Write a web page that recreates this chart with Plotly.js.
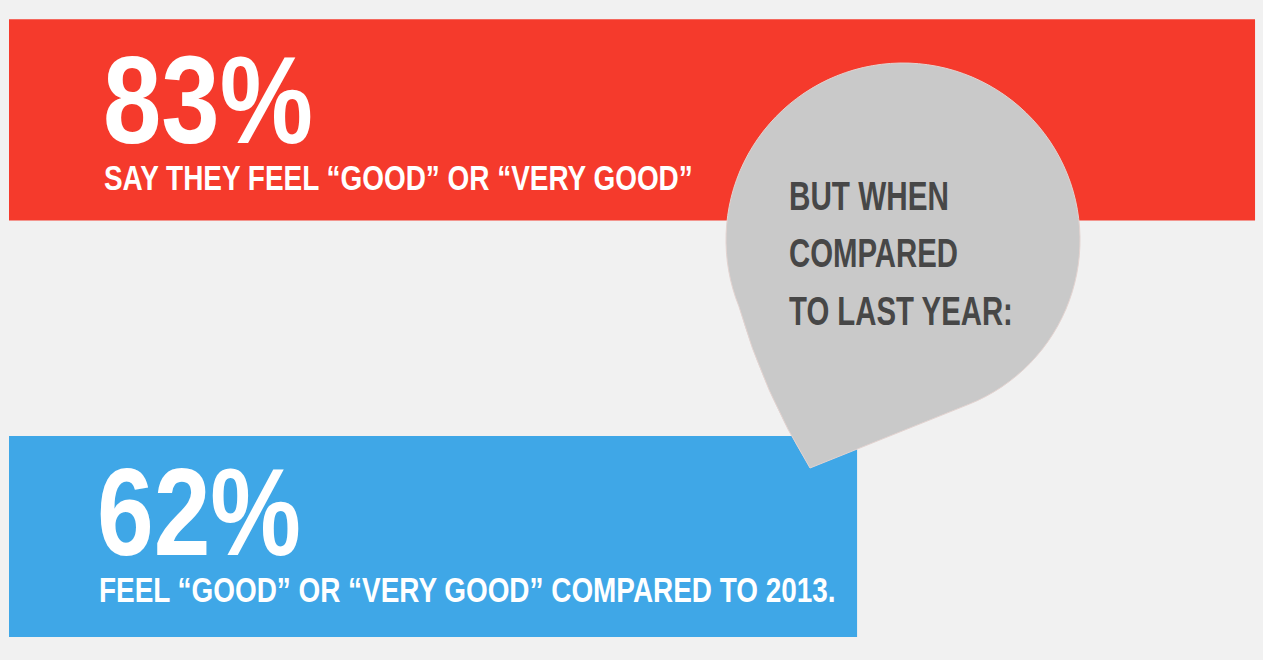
<!DOCTYPE html>
<html><head><meta charset="utf-8">
<script src="https://cdn.plot.ly/plotly-3.0.1.min.js"></script>
<style>html,body{margin:0;padding:0;background:#f1f1f1;overflow:hidden}#chart{width:1263px;height:660px}</style>
</head><body><div id="chart"></div>
<script>
// ---- data ----
const categories = ['Compared to 2013', 'Feel good or very good'];
const values = [62, 83];
const subLabels = ['FEEL “GOOD” OR “VERY GOOD” COMPARED TO 2013.', 'SAY THEY FEEL “GOOD” OR “VERY GOOD”'];
const calloutLines = ['BUT WHEN', 'COMPARED', 'TO LAST YEAR:'];

// ---- styling / layout helpers ----
const barColors = ['#3fa7e7', '#f53a2c'];
const W = 1263, H = 660, ML = 9;
const px = x => (x - ML) / (W - ML);
const py = y => 1 - y / H;
const FONT = '"Liberation Sans", Arial, sans-serif';

// callout bubble: round head + pointed tail (pixel geometry)
const head = {cx: 903, cy: 240, r: 177};
const tip = [810, 468];
function bubblePath(){
  const pts = [];
  for (let a = 68; a >= -204; a -= 3){
    const t = a * Math.PI / 180;
    pts.push([head.cx + head.r * Math.cos(t), head.cy + head.r * Math.sin(t)]);
  }
  let d = 'M' + px(tip[0]) + ',' + py(tip[1]);
  pts.forEach(p => { d += ' L' + px(p[0]) + ',' + py(p[1]); });
  const last = pts[pts.length - 1];
  const ctrl = [(last[0] + tip[0]) / 2 - 11, (last[1] + tip[1]) / 2 + 5];
  d += ' Q' + px(ctrl[0]) + ',' + py(ctrl[1]) + ' ' + px(tip[0]) + ',' + py(tip[1]) + ' Z';
  return d;
}

const trace = {
  type: 'bar', orientation: 'h',
  y: categories, x: values,
  marker: {color: barColors, line: {width: 0}},
  hoverinfo: 'skip'
};

// text placement (pixel) and condensed widths
const bigPos = [{x: 95, y: 512, w: 204}, {x: 101, y: 100, w: 210}];
const subPos = [{x: 97, y: 589, w: 737}, {x: 102, y: 177, w: 589}];
const calloutPos = {x: 787, y0: 196, dy: 57.5, w: [160, 169, 224]};

const annotations = [];
const widths = [];
values.forEach((v, i) => {
  annotations.push({xref:'paper', yref:'paper', x: px(bigPos[i].x), y: py(bigPos[i].y), xanchor:'left', yanchor:'middle', align:'left',
    text: v + '%', showarrow:false, font:{family: FONT, size: 124, color:'#ffffff', weight: 'bold'}});
  widths.push(bigPos[i].w);
  annotations.push({xref:'paper', yref:'paper', x: px(subPos[i].x), y: py(subPos[i].y), xanchor:'left', yanchor:'middle', align:'left',
    text: subLabels[i], showarrow:false, font:{family: FONT, size: 35, color:'#ffffff', weight: 'bold'}});
  widths.push(subPos[i].w);
});
calloutLines.forEach((t, i) => {
  annotations.push({xref:'paper', yref:'paper', x: px(calloutPos.x), y: py(calloutPos.y0 + i * calloutPos.dy), xanchor:'left', yanchor:'middle', align:'left',
    text: t, showarrow:false, font:{family: FONT, size: 41, color:'#474747', weight: 'bold'}});
  widths.push(calloutPos.w[i]);
});

const layout = {
  width: W, height: H,
  margin: {l: ML, r: 0, t: 0, b: 0},
  paper_bgcolor: '#f1f1f1', plot_bgcolor: '#f1f1f1',
  showlegend: false,
  bargap: 0.517,
  xaxis: {range: [17.25, 83.42], visible: false, fixedrange: true},
  yaxis: {type: 'category', categoryorder: 'array', categoryarray: categories, range: [-0.2965, 1.288], visible: false, fixedrange: true},
  shapes: [{type: 'path', xref: 'paper', yref: 'paper', path: bubblePath(), fillcolor: '#c9c9c9', line: {width: 1, color: '#e3d3d0'}, layer: 'above'}],
  annotations: annotations
};
Plotly.newPlot('chart', [trace], layout, {displayModeBar: false, staticPlot: true}).then(gd => {
  // condense the lettering horizontally, like the poster's narrow typeface
  widths.forEach((w, i) => {
    const g = gd.querySelector('g.annotation[data-index="' + i + '"]');
    if (!g) return;
    const t = g.querySelector('text.annotation-text');
    if (!t) return;
    const bb = t.getBBox();
    const k = w / bb.width;
    const x0 = bb.x;
    t.setAttribute('transform', 'translate(' + x0 + ',0) scale(' + k + ',1) translate(' + (-x0) + ',0)');
    g.querySelectorAll('rect').forEach(r => {
      const rw = parseFloat(r.getAttribute('width'));
      if (rw > w + 6) r.setAttribute('width', w + 6);
    });
  });
});
</script></body></html>
